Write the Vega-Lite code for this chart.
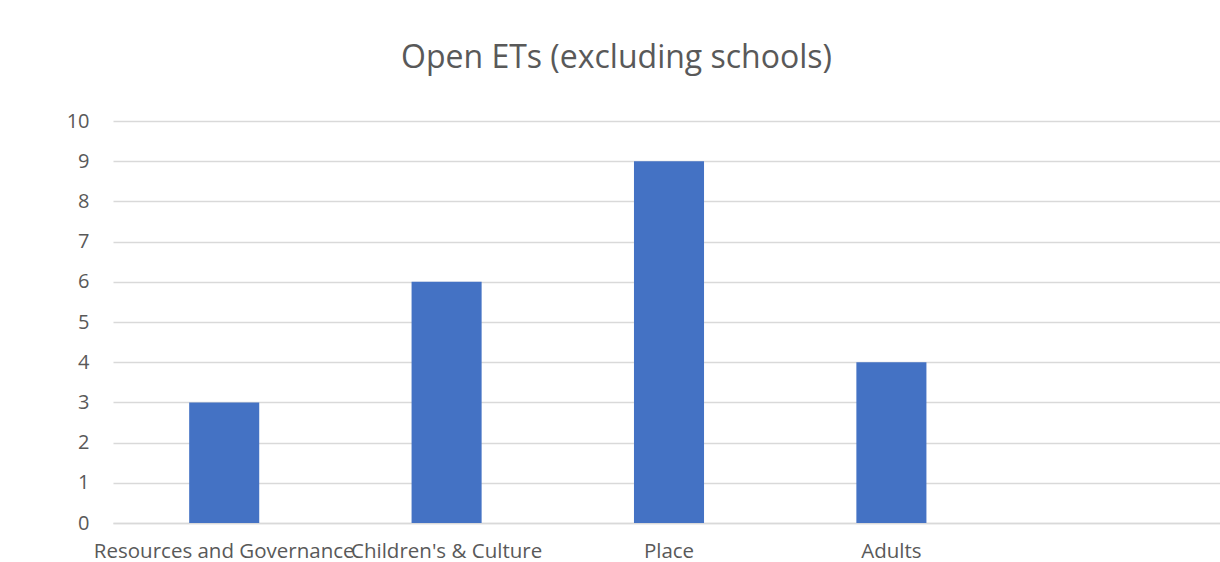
{
  "$schema": "https://vega.github.io/schema/vega-lite/v6.json",
  "autosize": {"type": "none"},
  "width": 1107,
  "height": 402,
  "padding": {"left": 113, "top": 121, "right": 0, "bottom": 39},
  "background": "white",
  "title": {
    "text": "Open ETs (excluding schools)",
    "font": "Open Sans",
    "fontSize": 32,
    "fontWeight": "normal",
    "color": "#595959",
    "anchor": "middle",
    "dx": -50,
    "offset": 36
  },
  "data": {
    "values": [
      {"category": "Resources and Governance", "value": 3},
      {"category": "Children's & Culture", "value": 6},
      {"category": "Place", "value": 9},
      {"category": "Adults", "value": 4}
    ]
  },
  "mark": {"type": "bar", "color": "#4472c4"},
  "encoding": {
    "x": {
      "field": "category",
      "type": "nominal",
      "sort": null,
      "scale": {
        "domain": ["Resources and Governance", "Children's & Culture", "Place", "Adults", ""],
        "range": [0, 1112],
        "paddingInner": 0.685,
        "paddingOuter": 0.3425
      },
      "axis": {
        "title": null,
        "labelAngle": 0,
        "labelFont": "Open Sans",
        "labelFontSize": 20.5,
        "labelColor": "#595959",
        "labelPadding": 18,
        "labelOverlap": false,
        "labelLimit": 0,
        "labelBound": false,
        "ticks": false,
        "domainColor": "#d9d9d9",
        "domainWidth": 1.5
      }
    },
    "y": {
      "field": "value",
      "type": "quantitative",
      "scale": {"domain": [0, 10]},
      "axis": {
        "title": null,
        "values": [0, 1, 2, 3, 4, 5, 6, 7, 8, 9, 10],
        "labelOverlap": false,
        "labelFont": "Open Sans",
        "labelFontSize": 20,
        "labelColor": "#595959",
        "labelPadding": 24,
        "ticks": false,
        "domain": false,
        "gridColor": "#d9d9d9",
        "gridWidth": 1.5
      }
    }
  },
  "config": {"view": {"stroke": null}}
}
